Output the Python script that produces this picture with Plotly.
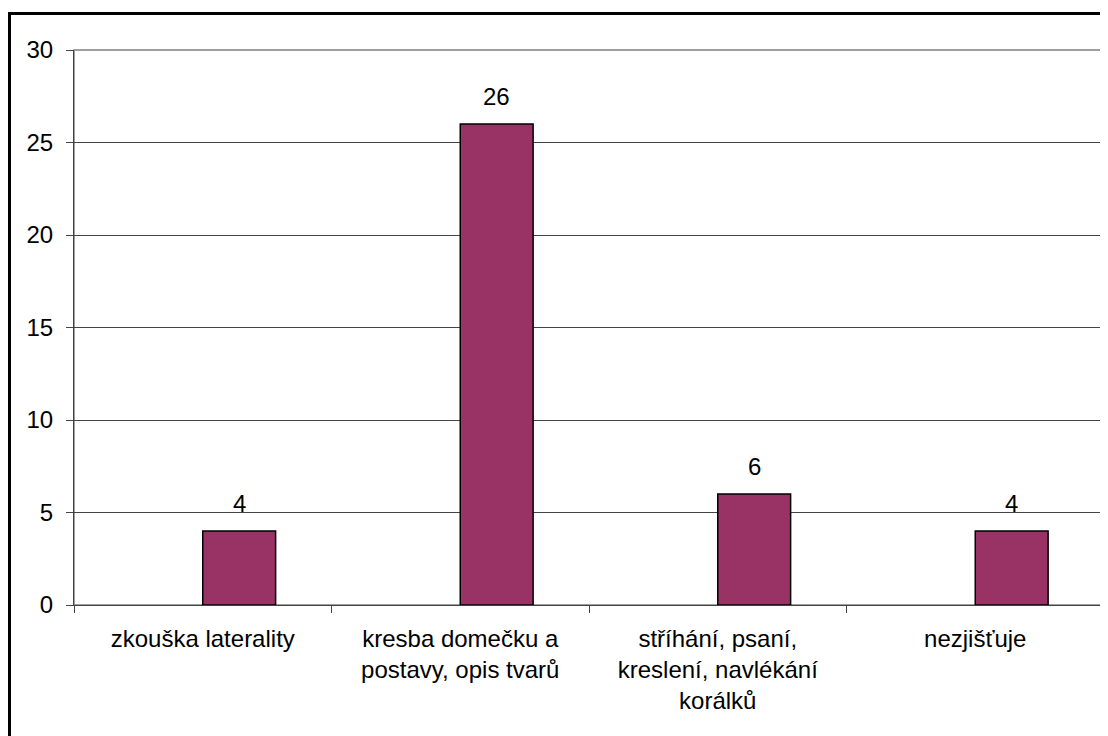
import plotly.graph_objects as go

categories = [
    "zkouška laterality",
    "kresba domečku a<br>postavy, opis tvarů",
    "stříhání, psaní,<br>kreslení, navlékání<br>korálků",
    "nezjišťuje",
]
values = [4, 26, 6, 4]
y_ticks = [0, 5, 10, 15, 20, 25, 30]

FONT = "Liberation Sans, Arial, sans-serif"
FS = 24

# page has an 8px body margin: figure is drawn at page offset (8, 8)
W, H = 1100, 728
ML, MT, MR, MB = 66, 42, 4, 131
PW, PH = W - ML - MR, H - MT - MB
BAR_W = 0.283  # in category units

fig = go.Figure(
    go.Bar(
        x=categories,
        y=values,
        width=BAR_W,
        offset=0,
        marker=dict(color="#993366", line=dict(color="#000000", width=1.5)),
    )
)

annotations = [
    dict(x=c, y=v, xref="x", yref="y", text=str(v), showarrow=False,
         xanchor="center", yanchor="bottom", xshift=BAR_W / 2 * PW / 4, yshift=12,
         font=dict(size=FS, color="#000000", family=FONT))
    for c, v in zip(categories, values)
]

fig.update_layout(
    width=W,
    height=H,
    margin=dict(l=ML, r=MR, t=MT, b=MB),
    paper_bgcolor="white",
    plot_bgcolor="white",
    showlegend=False,
    font=dict(family=FONT, size=FS, color="#000000"),
    annotations=annotations,
    shapes=[
        dict(type="rect", xref="paper", yref="paper",
             x0=(1.5 - ML) / PW, x1=1.2, y0=-1.0, y1=1 + (MT - 5.5) / PH,
             line=dict(color="#000000", width=3), fillcolor="rgba(0,0,0,0)", layer="below"),
        dict(type="rect", xref="paper", yref="paper",
             x0=0, x1=1, y0=0, y1=1,
             line=dict(color="#808080", width=1.5), fillcolor="rgba(0,0,0,0)", layer="below"),
    ],
)

fig.update_xaxes(
    type="category",
    showgrid=False,
    showline=True,
    linecolor="#444444",
    linewidth=1,
    ticks="outside",
    tickson="boundaries",
    ticklen=7,
    tickcolor="#444444",
    ticklabelstandoff=12,
    tickfont=dict(size=FS),
)
fig.update_yaxes(
    range=[0, 30],
    tickvals=y_ticks,
    showgrid=True,
    gridcolor="#444444",
    gridwidth=1,
    showline=True,
    linecolor="#444444",
    linewidth=1,
    ticks="outside",
    ticklen=7,
    tickcolor="#444444",
    ticklabelstandoff=8,
    tickfont=dict(size=FS),
    zeroline=False,
)

fig.write_html("out.html")
